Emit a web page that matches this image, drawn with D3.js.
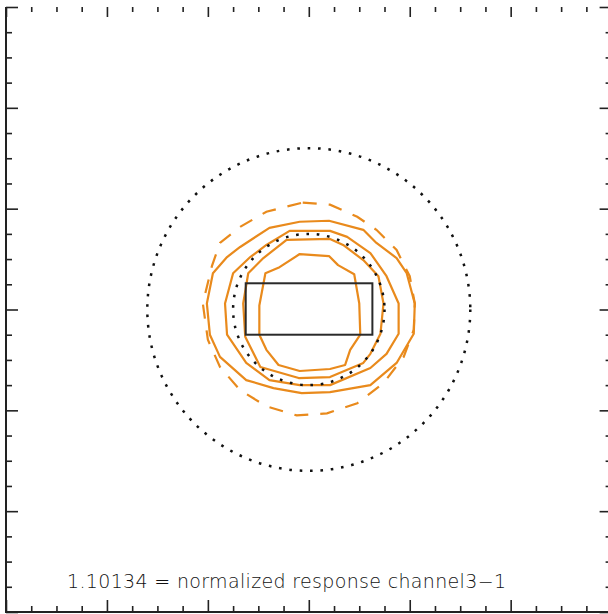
<!DOCTYPE html>
<html>
<head>
<meta charset="utf-8">
<script src="https://cdn.jsdelivr.net/npm/d3@7"></script>
<style>
  html, body { margin: 0; padding: 0; background: #fff; }
  svg { display: block; }
</style>
</head>
<body>
<svg id="chart" width="608" height="614"></svg>
<script>
// Axis ticks (data units)
const majorTicks = [-3, -2, -1, 0, 1, 2, 3];
const minorTicks = d3.range(-3, 3.0001, 0.25).filter(v => Math.abs(v - Math.round(v)) > 1e-6);

// Response contours, outermost (dashed) to innermost
const contourDashed = [
  [-0.06, 1.06], [0.21, 1.04], [0.48, 0.92], [0.67, 0.79], [0.87, 0.59], [1.00, 0.33],
  [1.05, 0.06], [1.04, -0.20], [0.94, -0.47], [0.74, -0.73], [0.48, -0.93], [0.18, -1.03],
  [-0.12, -1.05], [-0.42, -0.96], [-0.68, -0.80], [-0.88, -0.57], [-1.00, -0.30],
  [-1.05, 0.06], [-0.96, 0.43], [-0.88, 0.66], [-0.68, 0.82], [-0.42, 0.97]
];
const contourOuter = [
  [-0.09, 0.87], [0.20, 0.88], [0.54, 0.79], [0.67, 0.66], [0.87, 0.51], [0.97, 0.36],
  [1.05, 0.06], [1.04, -0.24], [0.87, -0.53], [0.61, -0.75], [0.21, -0.82], [-0.07, -0.83],
  [-0.35, -0.78], [-0.62, -0.70], [-0.88, -0.47], [-0.98, -0.25], [-1.01, 0.06],
  [-0.95, 0.36], [-0.81, 0.52], [-0.68, 0.62], [-0.39, 0.81]
];
const contourSecond = [
  [-0.19, 0.78], [0.21, 0.78], [0.38, 0.72], [0.61, 0.56], [0.77, 0.33], [0.89, 0.06],
  [0.89, -0.24], [0.77, -0.44], [0.61, -0.58], [0.21, -0.75], [-0.09, -0.75], [-0.39, -0.70],
  [-0.62, -0.53], [-0.81, -0.25], [-0.83, 0.06], [-0.75, 0.36], [-0.58, 0.52], [-0.42, 0.64]
];
const contourThird = [
  [-0.22, 0.69], [0.21, 0.70], [0.34, 0.64], [0.54, 0.49], [0.69, 0.33], [0.74, 0.06],
  [0.71, -0.24], [0.61, -0.44], [0.54, -0.53], [0.21, -0.67], [-0.10, -0.68], [-0.48, -0.57],
  [-0.63, -0.27], [-0.65, 0.06], [-0.60, 0.36], [-0.45, 0.51]
];
const contourInner = [
  [-0.09, 0.55], [0.20, 0.53], [0.29, 0.44], [0.45, 0.35], [0.50, 0.06], [0.51, -0.25],
  [0.41, -0.40], [0.36, -0.55], [0.21, -0.59], [-0.09, -0.61], [-0.30, -0.55], [-0.42, -0.40],
  [-0.49, -0.25], [-0.49, 0.04], [-0.43, 0.36], [-0.29, 0.42]
];
const solidContours = [contourOuter, contourSecond, contourThird, contourInner];

// Reference circles (radius, data units) and detector box corners
const circleRadii = [1.6, 0.75];
const boxX = [-0.625, 0.63];
const boxY = [-0.25, 0.26];

const label = "1.10134 = normalized response channel3\u22121";

const svg = d3.select("#chart");
const frameL = 6, frameR = 611.6, frameT = 7, frameB = 612;
const x = d3.scaleLinear().domain([-3, 3]).range([frameL, frameR]);
const y = d3.scaleLinear().domain([-3, 3]).range([frameB, frameT]);

const orange = "#e98a1c";
const line = d3.line().x(d => x(d[0])).y(d => y(d[1])).curve(d3.curveLinearClosed);

// dashed lowest contour
svg.append("path")
  .attr("d", line(contourDashed))
  .attr("fill", "none")
  .attr("stroke", orange)
  .attr("stroke-width", 2.2)
  .attr("stroke-dasharray", "14,12");

// solid contours
svg.selectAll("path.contour")
  .data(solidContours)
  .join("path")
  .attr("class", "contour")
  .attr("d", d => line(d))
  .attr("fill", "none")
  .attr("stroke", orange)
  .attr("stroke-width", 2.2)
  .attr("stroke-linejoin", "round");

// dotted circles
svg.selectAll("ellipse.ring")
  .data(circleRadii)
  .join("ellipse")
  .attr("class", "ring")
  .attr("cx", x(0))
  .attr("cy", y(0))
  .attr("rx", r => x(r) - x(0))
  .attr("ry", r => y(0) - y(r))
  .attr("fill", "none")
  .attr("stroke", "#111")
  .attr("stroke-width", 2.5)
  .attr("stroke-dasharray", "2.6,7.8");

// box
svg.append("rect")
  .attr("x", x(boxX[0]))
  .attr("y", y(boxY[1]))
  .attr("width", x(boxX[1]) - x(boxX[0]))
  .attr("height", y(boxY[0]) - y(boxY[1]))
  .attr("fill", "none")
  .attr("stroke", "#2a2a2a")
  .attr("stroke-width", 2);

// frame ticks, pointing inward
function ticks(axisFn, scale, values, size, transform) {
  const g = svg.append("g")
    .attr("transform", transform)
    .call(axisFn(scale).tickValues(values).tickSize(size).tickFormat(""));
  g.select(".domain").remove();
  g.selectAll(".tick line").attr("stroke", "#222").attr("stroke-width", 1.6);
}
ticks(d3.axisRight, y, majorTicks, 12, `translate(${frameL},0)`);
ticks(d3.axisRight, y, minorTicks, 6, `translate(${frameL},0)`);
ticks(d3.axisLeft, y, majorTicks, 12, `translate(${frameR},0)`);
ticks(d3.axisLeft, y, minorTicks, 6, `translate(${frameR},0)`);
ticks(d3.axisTop, x, majorTicks, 12, `translate(0,${frameB})`);
ticks(d3.axisTop, x, minorTicks, 6, `translate(0,${frameB})`);
ticks(d3.axisBottom, x, majorTicks, 10, `translate(0,${frameT})`);
ticks(d3.axisBottom, x, minorTicks, 5, `translate(0,${frameT})`);

// frame lines (left, bottom, right)
svg.append("path")
  .attr("d", `M${frameL},${frameT}V${frameB}H${frameR}V${frameT}`)
  .attr("fill", "none")
  .attr("stroke", "#222")
  .attr("stroke-width", 2);

svg.append("text")
  .attr("x", 67)
  .attr("y", 588)
  .attr("textLength", 439)
  .attr("lengthAdjust", "spacing")
  .attr("font-family", "'DejaVu Sans', 'Liberation Sans', sans-serif")
  .attr("font-weight", 300)
  .attr("font-size", 19)
  .attr("fill", "#111")
  .text(label);
</script>
</body>
</html>
